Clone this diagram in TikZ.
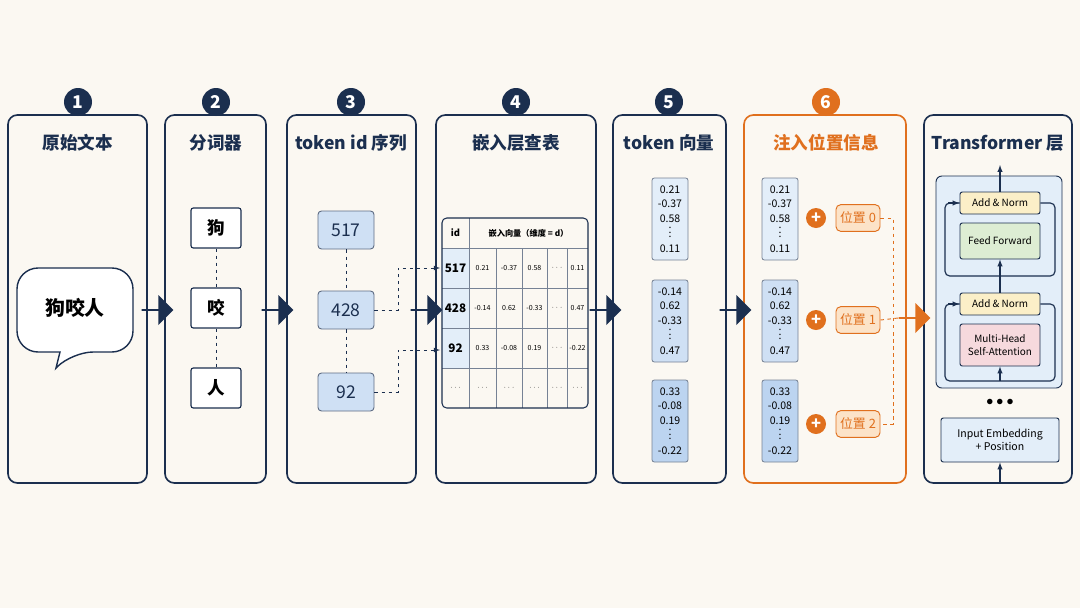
\documentclass[tikz,border=0pt]{standalone}
\usepackage{fontspec}
\setmainfont{Noto Sans CJK SC}
\usetikzlibrary{shapes.arrows,positioning}
\definecolor{navy}{HTML}{1B2F4F}
\definecolor{org}{HTML}{E0701E}
\definecolor{bg}{HTML}{FBF8F2}
\definecolor{lblue}{HTML}{E3EEF9}
\definecolor{mblue}{HTML}{CFE0F4}
\definecolor{dblue}{HTML}{BCD4F0}
\definecolor{lorg}{HTML}{FCE3C8}
\definecolor{yel}{HTML}{FBEFC8}
\definecolor{grn}{HTML}{DDEDD3}
\definecolor{pnk}{HTML}{F6D9DD}
\tikzset{
  panel/.style={draw=navy,line width=1.4pt,rounded corners=8pt,fill=bg},
  numdot/.style={circle,fill=navy,text=white,font=\fontsize{15}{15}\selectfont\bfseries,minimum size=0.84cm,inner sep=0pt},
  ptitle/.style={font=\fontsize{15}{18}\selectfont\bfseries,text=navy},
  bigarrow/.style={single arrow,fill=navy,minimum height=0.95cm,minimum width=0.9cm,single arrow head extend=0.1cm,inner sep=0pt},
  word/.style={draw=navy,line width=1pt,rounded corners=2pt,fill=white,minimum width=1.5cm,minimum height=1.2cm,font=\fontsize{15}{15}\selectfont\bfseries},
  tid/.style={draw=navy!70,line width=0.8pt,rounded corners=3pt,fill=mblue,minimum width=1.68cm,minimum height=1.14cm,font=\fontsize{15}{15}\selectfont,text=navy},
  vec/.style={draw=navy!60,line width=0.7pt,rounded corners=2pt,minimum width=1.08cm,minimum height=2.46cm,align=center,inner sep=1pt,font=\fontsize{9}{12.5}\selectfont},
  plusdot/.style={circle,fill=org,text=white,minimum size=0.6cm,inner sep=0pt,font=\bfseries\fontsize{14}{14}\selectfont},
  posbox/.style={draw=org,line width=0.8pt,rounded corners=4pt,fill=lorg,text=org,minimum width=1.32cm,minimum height=0.8cm,font=\fontsize{11}{11}\selectfont},
  blk/.style={draw=navy,line width=0.8pt,rounded corners=2pt,minimum width=2.4cm,align=center,font=\fontsize{8.5}{10.5}\selectfont},
  dlink/.style={navy,dashed,line width=0.8pt},
  link/.style={navy,line width=1pt,-latex},
}
\begin{document}
\begin{tikzpicture}[x=0.03cm,y=-0.03cm]
  \fill[bg] (0,0) rectangle (1080,608);
  \useasboundingbox (0,0) rectangle (1080,608);

  % Panels
  \draw[panel] (8,115) rectangle (147,483);
  \draw[panel] (165,115) rectangle (266,483);
  \draw[panel] (287,115) rectangle (416,483);
  \draw[panel] (436,115) rectangle (596,483);
  \draw[panel] (613,115) rectangle (726,483);
  \draw[panel,draw=org] (744,115) rectangle (906,483);
  \draw[panel] (924,115) rectangle (1072,483);

  % Numbers
  \node[numdot] (n1) at (78,102) {1};
  \node[numdot] (n2) at (216,102) {2};
  \node[numdot] (n3) at (351,102) {3};
  \node[numdot] (n4) at (516,102) {4};
  \node[numdot] (n5) at (669,102) {5};
  \node[numdot,fill=org] (n6) at (826,102) {6};

  % Titles
  \node[ptitle] (t1) at (78,143) {原始文本};
  \node[ptitle] (t2) at (216,143) {分词器};
  \node[ptitle] (t3) at (351,143) {token id 序列};
  \node[ptitle] (t4) at (516,143) {嵌入层查表};
  \node[ptitle] (t5) at (669,143) {token 向量};
  \node[ptitle,text=org] (t6) at (826,143) {注入位置信息};
  \node[ptitle] (t7) at (998,143) {Transformer 层};

  % Big arrows
  \node[bigarrow] (a1) at (157,310) {};
  \node[bigarrow] (a2) at (277,310) {};
  \node[bigarrow] (a3) at (426,310) {};
  \node[bigarrow] (a4) at (605,310) {};
  \node[bigarrow] (a5) at (735,310) {};
  \node[bigarrow,fill=org] (a6) at (914,318) {};

  % 1: speech bubble
  \draw[navy,line width=1.2pt,fill=white,rounded corners=18pt]
    (17,268) -- (133,268) -- (133,352) -- (72,352) [sharp corners] -- (56,368) -- (60,352)
    [rounded corners=18pt] -- (17,352) -- cycle;
  \node[font=\fontsize{17}{17}\selectfont\bfseries] (src) at (75,308) {狗咬人};

  % 2: tokens
  \node[word] (w1) at (216,228) {狗};
  \node[word] (w2) at (216,308) {咬};
  \node[word] (w3) at (216,388) {人};
  \draw[dlink] (w1) -- (w2);
  \draw[dlink] (w2) -- (w3);

  % 3: ids
  \node[tid] (i1) at (346,230) {517};
  \node[tid] (i2) at (346,310) {428};
  \node[tid] (i3) at (346,392) {92};
  \draw[dlink] (i1) -- (i2);
  \draw[dlink] (i2) -- (i3);
  \coordinate (r1) at (440,268);
  \coordinate (r3) at (440,350);
  \draw[dlink,-latex] (i2.east) -- (398,310) |- (r1);
  \draw[dlink,-latex] (i3.east) -- (398,392) |- (r3);

  % 4: table
  \fill[lblue] (442,248) rectangle (469,368);
  \foreach \y in {248,288,328,368}
    \draw[navy!60,line width=0.5pt] (442,\y) -- (588,\y);
  \draw[navy!60,line width=0.5pt] (469,218) -- (469,408);
  \foreach \x in {496,522,547,567}
    \draw[navy!60,line width=0.5pt] (\x,248) -- (\x,408);
  \draw[navy,line width=0.9pt,rounded corners=4pt] (442,218) rectangle (588,408);
  \node[font=\fontsize{8}{8}\selectfont\bfseries] at (455.5,233) {id};
  \node[font=\fontsize{7}{7}\selectfont\bfseries] at (528.5,233) {嵌入向量（维度 = d）};
  \foreach \id/\a/\b/\c/\e [count=\r] in {517/0.21/-0.37/0.58/0.11,428/-0.14/0.62/-0.33/0.47,92/0.33/-0.08/0.19/-0.22}{
    \pgfmathsetmacro\yy{228+40*\r}
    \node[font=\fontsize{10}{10}\selectfont\bfseries] at (455.5,\yy) {\id};
    \node[font=\fontsize{6}{6}\selectfont] at (482.5,\yy) {\a};
    \node[font=\fontsize{6}{6}\selectfont] at (509,\yy) {\b};
    \node[font=\fontsize{6}{6}\selectfont] at (534.5,\yy) {\c};
    \node[font=\fontsize{6}{6}\selectfont] at (557,\yy) {$\cdots$};
    \node[font=\fontsize{6}{6}\selectfont] at (577.5,\yy) {\e};
  }
  \foreach \x in {455.5,482.5,509,534.5,557,577.5}
    \node[font=\fontsize{6}{6}\selectfont] at (\x,388) {$\cdots$};

  % 5: vectors
  \node[vec,fill=lblue] (v1) at (670,219) {0.21\\-0.37\\0.58\\[-3pt]$\vdots$\\0.11};
  \node[vec,fill=mblue] (v2) at (670,321) {-0.14\\0.62\\-0.33\\[-3pt]$\vdots$\\0.47};
  \node[vec,fill=dblue] (v3) at (670,421) {0.33\\-0.08\\0.19\\[-3pt]$\vdots$\\-0.22};

  % 6: vectors + positions
  \node[vec,fill=lblue] (u1) at (780,219) {0.21\\-0.37\\0.58\\[-3pt]$\vdots$\\0.11};
  \node[vec,fill=mblue] (u2) at (780,321) {-0.14\\0.62\\-0.33\\[-3pt]$\vdots$\\0.47};
  \node[vec,fill=dblue] (u3) at (780,421) {0.33\\-0.08\\0.19\\[-3pt]$\vdots$\\-0.22};
  \node[plusdot] (p1) at (816,218) {+};
  \node[plusdot] (p2) at (816,320) {+};
  \node[plusdot] (p3) at (816,424) {+};
  \node[posbox] (q1) at (858,218) {位置 0};
  \node[posbox] (q2) at (858,320) {位置 1};
  \node[posbox] (q3) at (858,424) {位置 2};
  \draw[org,dashed,line width=0.8pt] (q1.east) -| (893,424) -- (q3.east);
  \draw[org,dashed,line width=0.8pt] (q2.east) -- (a6.west);

  % 7: Transformer block
  \draw[navy,line width=0.8pt,rounded corners=5pt,fill=lblue] (936,176) rectangle (1062,388);
  \node[blk,fill=yel,minimum height=0.66cm] (an1) at (1000,203) {Add \& Norm};
  \node[blk,fill=grn,minimum height=1.08cm] (ff) at (1000,241) {Feed Forward};
  \node[blk,fill=yel,minimum height=0.66cm] (an2) at (1000,304) {Add \& Norm};
  \node[blk,fill=pnk,minimum height=1.26cm] (att) at (1000,345) {Multi-Head\\Self-Attention};
  \node[blk,fill=lblue,minimum width=3.54cm,minimum height=1.32cm,font=\fontsize{9}{11}\selectfont] (emb) at (1000,440) {Input Embedding\\+ Position};
  \node[font=\bfseries\fontsize{12}{12}\selectfont] (dots) at (1000,402) {$\bullet\bullet\bullet$};
  \coordinate (bot) at (1000,483);
  \coordinate (top) at (1000,165);
  \coordinate (j2) at (1000,381);
  \draw[link] (bot) -- (emb);
  \draw[link] (j2) -- (att);
  \draw[link] (an2) -- (ff);
  \draw[link] (an1) -- (top);
  \draw[navy,line width=1pt,rounded corners=4pt] (an2.east) -| (1055,381) -- (945,381) |- (an2.west);
  \draw[link] (948,304) -- (an2.west);
  \draw[navy,line width=1pt,rounded corners=4pt] (an1.east) -| (1055,276) -- (945,276) |- (an1.west);
  \draw[link] (948,203) -- (an1.west);
\end{tikzpicture}
\end{document}
